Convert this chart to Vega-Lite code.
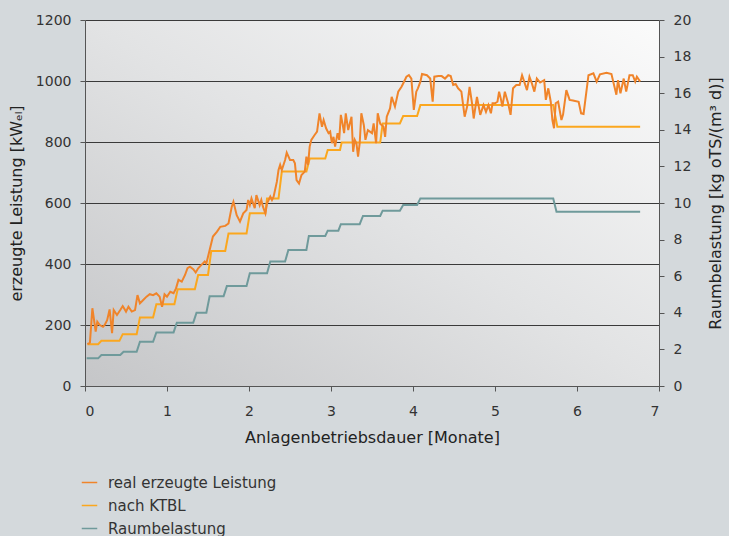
{
  "$schema": "https://vega.github.io/schema/vega-lite/v6.json",
  "width": 574,
  "height": 366,
  "autosize": {"type": "none"},
  "padding": {"left": 85, "top": 20, "right": 70, "bottom": 150},
  "background": "#d4d9dc",
  "config": {
    "font": "DejaVu Sans",
    "view": {"stroke": null, "fill": {"gradient": "linear", "x1": 0, "y1": 1, "x2": 1, "y2": 0, "stops": [{"offset": 0, "color": "#c5c6c8"}, {"offset": 0.5, "color": "#e2e3e4"}, {"offset": 1, "color": "#fbfbfb"}]}},
    "axis": {"labelFont": "DejaVu Sans", "labelFontSize": 14, "labelColor": "#333333", "titleFont": "DejaVu Sans", "titleFontSize": 16, "titleFontWeight": "normal", "titleColor": "#222222", "domainColor": "#555555", "tickColor": "#555555", "tickSize": 5, "labelPadding": 9, "format": "d"},
    "legend": {"orient": "none", "legendX": -4, "legendY": 454, "symbolType": "stroke", "symbolSize": 240, "symbolStrokeWidth": 1.5, "labelFont": "DejaVu Sans", "labelFontSize": 15, "labelColor": "#333333", "labelOffset": 10, "labelLimit": 400, "rowPadding": 6}
  },
  "datasets": {
    "leistung": [
      {"m":0.03,"v":137,"s":"nach KTBL"},{"m":0.16,"v":137,"s":"nach KTBL"},{"m":0.20,"v":148,"s":"nach KTBL"},{"m":0.42,"v":148,"s":"nach KTBL"},{"m":0.46,"v":170,"s":"nach KTBL"},{"m":0.63,"v":170,"s":"nach KTBL"},{"m":0.67,"v":225,"s":"nach KTBL"},{"m":0.83,"v":225,"s":"nach KTBL"},{"m":0.87,"v":268,"s":"nach KTBL"},{"m":1.09,"v":268,"s":"nach KTBL"},{"m":1.13,"v":317,"s":"nach KTBL"},{"m":1.34,"v":317,"s":"nach KTBL"},{"m":1.38,"v":364,"s":"nach KTBL"},{"m":1.50,"v":364,"s":"nach KTBL"},{"m":1.54,"v":443,"s":"nach KTBL"},{"m":1.71,"v":443,"s":"nach KTBL"},{"m":1.75,"v":500,"s":"nach KTBL"},{"m":1.97,"v":500,"s":"nach KTBL"},{"m":2.01,"v":566,"s":"nach KTBL"},{"m":2.20,"v":566,"s":"nach KTBL"},{"m":2.22,"v":615,"s":"nach KTBL"},{"m":2.36,"v":615,"s":"nach KTBL"},{"m":2.40,"v":703,"s":"nach KTBL"},{"m":2.70,"v":703,"s":"nach KTBL"},{"m":2.74,"v":746,"s":"nach KTBL"},{"m":2.93,"v":746,"s":"nach KTBL"},{"m":2.96,"v":774,"s":"nach KTBL"},{"m":3.11,"v":774,"s":"nach KTBL"},{"m":3.13,"v":798,"s":"nach KTBL"},{"m":3.60,"v":798,"s":"nach KTBL"},{"m":3.63,"v":861,"s":"nach KTBL"},{"m":3.84,"v":861,"s":"nach KTBL"},{"m":3.88,"v":885,"s":"nach KTBL"},{"m":4.05,"v":885,"s":"nach KTBL"},{"m":4.09,"v":921,"s":"nach KTBL"},{"m":5.71,"v":921,"s":"nach KTBL"},{"m":5.76,"v":850,"s":"nach KTBL"},{"m":6.77,"v":850,"s":"nach KTBL"},
      {"m":0.03,"v":137,"s":"real erzeugte Leistung"},{"m":0.06,"v":142,"s":"real erzeugte Leistung"},{"m":0.09,"v":255,"s":"real erzeugte Leistung"},{"m":0.13,"v":178,"s":"real erzeugte Leistung"},{"m":0.15,"v":211,"s":"real erzeugte Leistung"},{"m":0.18,"v":200,"s":"real erzeugte Leistung"},{"m":0.22,"v":194,"s":"real erzeugte Leistung"},{"m":0.24,"v":200,"s":"real erzeugte Leistung"},{"m":0.27,"v":216,"s":"real erzeugte Leistung"},{"m":0.30,"v":251,"s":"real erzeugte Leistung"},{"m":0.33,"v":173,"s":"real erzeugte Leistung"},{"m":0.35,"v":249,"s":"real erzeugte Leistung"},{"m":0.39,"v":233,"s":"real erzeugte Leistung"},{"m":0.43,"v":249,"s":"real erzeugte Leistung"},{"m":0.46,"v":262,"s":"real erzeugte Leistung"},{"m":0.50,"v":244,"s":"real erzeugte Leistung"},{"m":0.53,"v":260,"s":"real erzeugte Leistung"},{"m":0.57,"v":244,"s":"real erzeugte Leistung"},{"m":0.61,"v":249,"s":"real erzeugte Leistung"},{"m":0.64,"v":298,"s":"real erzeugte Leistung"},{"m":0.67,"v":271,"s":"real erzeugte Leistung"},{"m":0.71,"v":282,"s":"real erzeugte Leistung"},{"m":0.75,"v":293,"s":"real erzeugte Leistung"},{"m":0.79,"v":301,"s":"real erzeugte Leistung"},{"m":0.83,"v":298,"s":"real erzeugte Leistung"},{"m":0.87,"v":304,"s":"real erzeugte Leistung"},{"m":0.91,"v":293,"s":"real erzeugte Leistung"},{"m":0.94,"v":260,"s":"real erzeugte Leistung"},{"m":0.97,"v":301,"s":"real erzeugte Leistung"},{"m":1.00,"v":293,"s":"real erzeugte Leistung"},{"m":1.04,"v":309,"s":"real erzeugte Leistung"},{"m":1.08,"v":304,"s":"real erzeugte Leistung"},{"m":1.11,"v":320,"s":"real erzeugte Leistung"},{"m":1.14,"v":348,"s":"real erzeugte Leistung"},{"m":1.18,"v":342,"s":"real erzeugte Leistung"},{"m":1.22,"v":364,"s":"real erzeugte Leistung"},{"m":1.25,"v":386,"s":"real erzeugte Leistung"},{"m":1.28,"v":391,"s":"real erzeugte Leistung"},{"m":1.32,"v":383,"s":"real erzeugte Leistung"},{"m":1.35,"v":372,"s":"real erzeugte Leistung"},{"m":1.38,"v":386,"s":"real erzeugte Leistung"},{"m":1.42,"v":397,"s":"real erzeugte Leistung"},{"m":1.46,"v":408,"s":"real erzeugte Leistung"},{"m":1.48,"v":402,"s":"real erzeugte Leistung"},{"m":1.52,"v":446,"s":"real erzeugte Leistung"},{"m":1.56,"v":490,"s":"real erzeugte Leistung"},{"m":1.61,"v":506,"s":"real erzeugte Leistung"},{"m":1.65,"v":522,"s":"real erzeugte Leistung"},{"m":1.71,"v":525,"s":"real erzeugte Leistung"},{"m":1.75,"v":533,"s":"real erzeugte Leistung"},{"m":1.79,"v":588,"s":"real erzeugte Leistung"},{"m":1.81,"v":604,"s":"real erzeugte Leistung"},{"m":1.85,"v":560,"s":"real erzeugte Leistung"},{"m":1.89,"v":539,"s":"real erzeugte Leistung"},{"m":1.93,"v":566,"s":"real erzeugte Leistung"},{"m":1.97,"v":577,"s":"real erzeugte Leistung"},{"m":1.99,"v":610,"s":"real erzeugte Leistung"},{"m":2.01,"v":593,"s":"real erzeugte Leistung"},{"m":2.03,"v":615,"s":"real erzeugte Leistung"},{"m":2.07,"v":583,"s":"real erzeugte Leistung"},{"m":2.09,"v":626,"s":"real erzeugte Leistung"},{"m":2.13,"v":593,"s":"real erzeugte Leistung"},{"m":2.15,"v":610,"s":"real erzeugte Leistung"},{"m":2.17,"v":588,"s":"real erzeugte Leistung"},{"m":2.20,"v":566,"s":"real erzeugte Leistung"},{"m":2.22,"v":599,"s":"real erzeugte Leistung"},{"m":2.26,"v":621,"s":"real erzeugte Leistung"},{"m":2.28,"v":610,"s":"real erzeugte Leistung"},{"m":2.30,"v":621,"s":"real erzeugte Leistung"},{"m":2.34,"v":670,"s":"real erzeugte Leistung"},{"m":2.36,"v":708,"s":"real erzeugte Leistung"},{"m":2.38,"v":725,"s":"real erzeugte Leistung"},{"m":2.40,"v":708,"s":"real erzeugte Leistung"},{"m":2.44,"v":741,"s":"real erzeugte Leistung"},{"m":2.46,"v":765,"s":"real erzeugte Leistung"},{"m":2.50,"v":741,"s":"real erzeugte Leistung"},{"m":2.54,"v":741,"s":"real erzeugte Leistung"},{"m":2.56,"v":730,"s":"real erzeugte Leistung"},{"m":2.58,"v":675,"s":"real erzeugte Leistung"},{"m":2.61,"v":664,"s":"real erzeugte Leistung"},{"m":2.64,"v":692,"s":"real erzeugte Leistung"},{"m":2.68,"v":703,"s":"real erzeugte Leistung"},{"m":2.70,"v":752,"s":"real erzeugte Leistung"},{"m":2.72,"v":725,"s":"real erzeugte Leistung"},{"m":2.74,"v":785,"s":"real erzeugte Leistung"},{"m":2.76,"v":807,"s":"real erzeugte Leistung"},{"m":2.80,"v":823,"s":"real erzeugte Leistung"},{"m":2.83,"v":834,"s":"real erzeugte Leistung"},{"m":2.86,"v":894,"s":"real erzeugte Leistung"},{"m":2.89,"v":850,"s":"real erzeugte Leistung"},{"m":2.91,"v":872,"s":"real erzeugte Leistung"},{"m":2.94,"v":845,"s":"real erzeugte Leistung"},{"m":2.97,"v":829,"s":"real erzeugte Leistung"},{"m":2.99,"v":834,"s":"real erzeugte Leistung"},{"m":3.01,"v":796,"s":"real erzeugte Leistung"},{"m":3.03,"v":817,"s":"real erzeugte Leistung"},{"m":3.05,"v":785,"s":"real erzeugte Leistung"},{"m":3.08,"v":829,"s":"real erzeugte Leistung"},{"m":3.10,"v":807,"s":"real erzeugte Leistung"},{"m":3.12,"v":889,"s":"real erzeugte Leistung"},{"m":3.14,"v":861,"s":"real erzeugte Leistung"},{"m":3.16,"v":829,"s":"real erzeugte Leistung"},{"m":3.18,"v":894,"s":"real erzeugte Leistung"},{"m":3.21,"v":839,"s":"real erzeugte Leistung"},{"m":3.25,"v":883,"s":"real erzeugte Leistung"},{"m":3.27,"v":768,"s":"real erzeugte Leistung"},{"m":3.29,"v":807,"s":"real erzeugte Leistung"},{"m":3.31,"v":796,"s":"real erzeugte Leistung"},{"m":3.33,"v":752,"s":"real erzeugte Leistung"},{"m":3.35,"v":796,"s":"real erzeugte Leistung"},{"m":3.37,"v":894,"s":"real erzeugte Leistung"},{"m":3.40,"v":856,"s":"real erzeugte Leistung"},{"m":3.42,"v":807,"s":"real erzeugte Leistung"},{"m":3.45,"v":839,"s":"real erzeugte Leistung"},{"m":3.50,"v":829,"s":"real erzeugte Leistung"},{"m":3.52,"v":861,"s":"real erzeugte Leistung"},{"m":3.55,"v":796,"s":"real erzeugte Leistung"},{"m":3.57,"v":894,"s":"real erzeugte Leistung"},{"m":3.60,"v":860,"s":"real erzeugte Leistung"},{"m":3.64,"v":850,"s":"real erzeugte Leistung"},{"m":3.66,"v":817,"s":"real erzeugte Leistung"},{"m":3.68,"v":883,"s":"real erzeugte Leistung"},{"m":3.72,"v":910,"s":"real erzeugte Leistung"},{"m":3.74,"v":948,"s":"real erzeugte Leistung"},{"m":3.76,"v":932,"s":"real erzeugte Leistung"},{"m":3.78,"v":916,"s":"real erzeugte Leistung"},{"m":3.82,"v":965,"s":"real erzeugte Leistung"},{"m":3.86,"v":981,"s":"real erzeugte Leistung"},{"m":3.88,"v":992,"s":"real erzeugte Leistung"},{"m":3.92,"v":1014,"s":"real erzeugte Leistung"},{"m":3.95,"v":1019,"s":"real erzeugte Leistung"},{"m":3.98,"v":1008,"s":"real erzeugte Leistung"},{"m":4.01,"v":905,"s":"real erzeugte Leistung"},{"m":4.04,"v":965,"s":"real erzeugte Leistung"},{"m":4.06,"v":976,"s":"real erzeugte Leistung"},{"m":4.09,"v":998,"s":"real erzeugte Leistung"},{"m":4.11,"v":1023,"s":"real erzeugte Leistung"},{"m":4.17,"v":1019,"s":"real erzeugte Leistung"},{"m":4.21,"v":1008,"s":"real erzeugte Leistung"},{"m":4.24,"v":932,"s":"real erzeugte Leistung"},{"m":4.26,"v":1014,"s":"real erzeugte Leistung"},{"m":4.31,"v":1016,"s":"real erzeugte Leistung"},{"m":4.35,"v":1016,"s":"real erzeugte Leistung"},{"m":4.39,"v":1008,"s":"real erzeugte Leistung"},{"m":4.43,"v":1019,"s":"real erzeugte Leistung"},{"m":4.46,"v":1016,"s":"real erzeugte Leistung"},{"m":4.49,"v":987,"s":"real erzeugte Leistung"},{"m":4.52,"v":990,"s":"real erzeugte Leistung"},{"m":4.55,"v":976,"s":"real erzeugte Leistung"},{"m":4.59,"v":965,"s":"real erzeugte Leistung"},{"m":4.63,"v":883,"s":"real erzeugte Leistung"},{"m":4.66,"v":916,"s":"real erzeugte Leistung"},{"m":4.69,"v":981,"s":"real erzeugte Leistung"},{"m":4.72,"v":927,"s":"real erzeugte Leistung"},{"m":4.74,"v":877,"s":"real erzeugte Leistung"},{"m":4.78,"v":948,"s":"real erzeugte Leistung"},{"m":4.82,"v":889,"s":"real erzeugte Leistung"},{"m":4.86,"v":921,"s":"real erzeugte Leistung"},{"m":4.89,"v":899,"s":"real erzeugte Leistung"},{"m":4.92,"v":921,"s":"real erzeugte Leistung"},{"m":4.95,"v":894,"s":"real erzeugte Leistung"},{"m":4.97,"v":927,"s":"real erzeugte Leistung"},{"m":5.00,"v":927,"s":"real erzeugte Leistung"},{"m":5.03,"v":932,"s":"real erzeugte Leistung"},{"m":5.05,"v":965,"s":"real erzeugte Leistung"},{"m":5.07,"v":943,"s":"real erzeugte Leistung"},{"m":5.09,"v":916,"s":"real erzeugte Leistung"},{"m":5.12,"v":965,"s":"real erzeugte Leistung"},{"m":5.16,"v":927,"s":"real erzeugte Leistung"},{"m":5.19,"v":889,"s":"real erzeugte Leistung"},{"m":5.22,"v":976,"s":"real erzeugte Leistung"},{"m":5.26,"v":987,"s":"real erzeugte Leistung"},{"m":5.30,"v":987,"s":"real erzeugte Leistung"},{"m":5.33,"v":1019,"s":"real erzeugte Leistung"},{"m":5.35,"v":1003,"s":"real erzeugte Leistung"},{"m":5.39,"v":970,"s":"real erzeugte Leistung"},{"m":5.42,"v":1014,"s":"real erzeugte Leistung"},{"m":5.45,"v":992,"s":"real erzeugte Leistung"},{"m":5.48,"v":965,"s":"real erzeugte Leistung"},{"m":5.51,"v":1008,"s":"real erzeugte Leistung"},{"m":5.55,"v":995,"s":"real erzeugte Leistung"},{"m":5.60,"v":1003,"s":"real erzeugte Leistung"},{"m":5.62,"v":938,"s":"real erzeugte Leistung"},{"m":5.65,"v":976,"s":"real erzeugte Leistung"},{"m":5.68,"v":932,"s":"real erzeugte Leistung"},{"m":5.70,"v":872,"s":"real erzeugte Leistung"},{"m":5.72,"v":845,"s":"real erzeugte Leistung"},{"m":5.74,"v":927,"s":"real erzeugte Leistung"},{"m":5.77,"v":932,"s":"real erzeugte Leistung"},{"m":5.81,"v":872,"s":"real erzeugte Leistung"},{"m":5.83,"v":890,"s":"real erzeugte Leistung"},{"m":5.87,"v":970,"s":"real erzeugte Leistung"},{"m":5.91,"v":938,"s":"real erzeugte Leistung"},{"m":5.95,"v":936,"s":"real erzeugte Leistung"},{"m":6.02,"v":932,"s":"real erzeugte Leistung"},{"m":6.05,"v":894,"s":"real erzeugte Leistung"},{"m":6.08,"v":892,"s":"real erzeugte Leistung"},{"m":6.14,"v":1019,"s":"real erzeugte Leistung"},{"m":6.20,"v":1025,"s":"real erzeugte Leistung"},{"m":6.24,"v":998,"s":"real erzeugte Leistung"},{"m":6.28,"v":1022,"s":"real erzeugte Leistung"},{"m":6.36,"v":1027,"s":"real erzeugte Leistung"},{"m":6.42,"v":1023,"s":"real erzeugte Leistung"},{"m":6.48,"v":955,"s":"real erzeugte Leistung"},{"m":6.50,"v":1003,"s":"real erzeugte Leistung"},{"m":6.53,"v":960,"s":"real erzeugte Leistung"},{"m":6.57,"v":1008,"s":"real erzeugte Leistung"},{"m":6.60,"v":965,"s":"real erzeugte Leistung"},{"m":6.64,"v":1019,"s":"real erzeugte Leistung"},{"m":6.68,"v":1019,"s":"real erzeugte Leistung"},{"m":6.71,"v":998,"s":"real erzeugte Leistung"},{"m":6.73,"v":1014,"s":"real erzeugte Leistung"},{"m":6.77,"v":998,"s":"real erzeugte Leistung"}
    ],
    "raum": [
      {"m":0.02,"r":1.51,"s":"Raumbelastung"},{"m":0.16,"r":1.51,"s":"Raumbelastung"},{"m":0.20,"r":1.69,"s":"Raumbelastung"},{"m":0.43,"r":1.69,"s":"Raumbelastung"},{"m":0.47,"r":1.87,"s":"Raumbelastung"},{"m":0.63,"r":1.87,"s":"Raumbelastung"},{"m":0.67,"r":2.42,"s":"Raumbelastung"},{"m":0.83,"r":2.42,"s":"Raumbelastung"},{"m":0.87,"r":2.93,"s":"Raumbelastung"},{"m":1.08,"r":2.93,"s":"Raumbelastung"},{"m":1.12,"r":3.46,"s":"Raumbelastung"},{"m":1.32,"r":3.46,"s":"Raumbelastung"},{"m":1.36,"r":4.0,"s":"Raumbelastung"},{"m":1.48,"r":4.0,"s":"Raumbelastung"},{"m":1.52,"r":4.9,"s":"Raumbelastung"},{"m":1.69,"r":4.9,"s":"Raumbelastung"},{"m":1.73,"r":5.46,"s":"Raumbelastung"},{"m":1.97,"r":5.46,"s":"Raumbelastung"},{"m":2.01,"r":6.16,"s":"Raumbelastung"},{"m":2.22,"r":6.16,"s":"Raumbelastung"},{"m":2.26,"r":6.8,"s":"Raumbelastung"},{"m":2.44,"r":6.8,"s":"Raumbelastung"},{"m":2.48,"r":7.43,"s":"Raumbelastung"},{"m":2.70,"r":7.43,"s":"Raumbelastung"},{"m":2.73,"r":8.2,"s":"Raumbelastung"},{"m":2.93,"r":8.2,"s":"Raumbelastung"},{"m":2.96,"r":8.49,"s":"Raumbelastung"},{"m":3.09,"r":8.49,"s":"Raumbelastung"},{"m":3.12,"r":8.84,"s":"Raumbelastung"},{"m":3.35,"r":8.84,"s":"Raumbelastung"},{"m":3.39,"r":9.29,"s":"Raumbelastung"},{"m":3.60,"r":9.29,"s":"Raumbelastung"},{"m":3.63,"r":9.58,"s":"Raumbelastung"},{"m":3.84,"r":9.58,"s":"Raumbelastung"},{"m":3.88,"r":9.89,"s":"Raumbelastung"},{"m":4.05,"r":9.89,"s":"Raumbelastung"},{"m":4.09,"r":10.25,"s":"Raumbelastung"},{"m":5.71,"r":10.25,"s":"Raumbelastung"},{"m":5.75,"r":9.52,"s":"Raumbelastung"},{"m":6.77,"r":9.52,"s":"Raumbelastung"}
    ]
  },
  "layer": [
    {
      "data": {"name": "leistung"},
      "mark": {"type": "line", "strokeWidth": 2},
      "encoding": {
        "x": {"field": "m", "type": "quantitative", "scale": {"domain": [0, 7], "nice": false}, "axis": {"values": [0, 1, 2, 3, 4, 5, 6, 7], "grid": false, "title": "Anlagenbetriebsdauer [Monate]", "labelPadding": 13, "titlePadding": 11}},
        "y": {"field": "v", "type": "quantitative", "scale": {"domain": [0, 1200], "nice": false}, "axis": {"values": [0, 200, 400, 600, 800, 1000, 1200], "grid": true, "gridColor": "#3a3a3a", "gridWidth": 1, "gridOpacity": 1, "title": "erzeugte Leistung [kWₑₗ]", "titlePadding": 11}},
        "color": {"field": "s", "type": "nominal", "scale": {"domain": ["real erzeugte Leistung", "nach KTBL", "Raumbelastung"], "range": ["#f0842a", "#fba71e", "#6f9a9b"]}, "legend": {"title": null}}
      }
    },
    {
      "data": {"name": "raum"},
      "mark": {"type": "line", "strokeWidth": 2},
      "encoding": {
        "x": {"field": "m", "type": "quantitative"},
        "y": {"field": "r", "type": "quantitative", "scale": {"domain": [0, 20], "nice": false}, "axis": {"orient": "right", "values": [0, 2, 4, 6, 8, 10, 12, 14, 16, 18, 20], "grid": false, "title": "Raumbelastung [kg oTS/(m³ d)]", "titleAngle": -90, "titleBaseline": "top", "titlePadding": 17}},
        "color": {"field": "s", "type": "nominal"}
      }
    }
  ],
  "resolve": {"scale": {"y": "independent"}}
}
